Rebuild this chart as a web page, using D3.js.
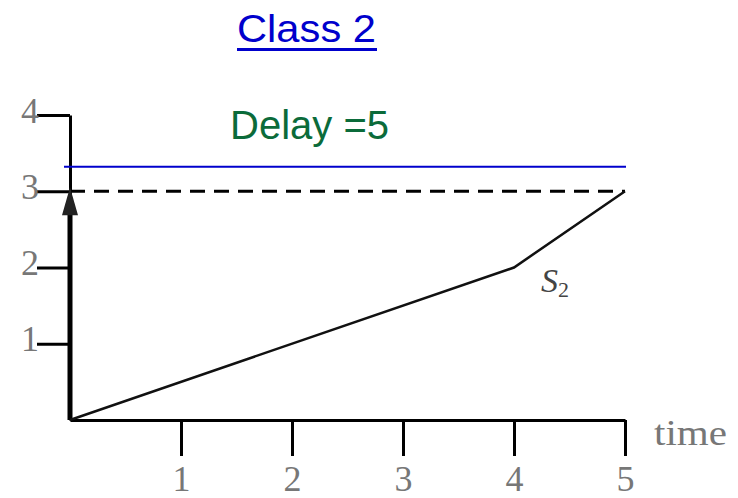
<!DOCTYPE html>
<html>
<head>
<meta charset="utf-8">
<script src="https://cdn.jsdelivr.net/npm/d3@7"></script>
<style>
  body { margin: 0; background: #fff; }
</style>
</head>
<body>
<svg id="chart"></svg>
<script>
// Class 2 arrival curve
const xTicks = [1, 2, 3, 4, 5];
const yTicks = [1, 2, 3, 4];
const s2Time = [0, 4, 5];
const s2Value = [0, 2, 3];
const burstValue = 3;
const delayLevel = 3.32;
const titleText = "Class 2";
const delayText = "Delay =5";

const width = 738, height = 498;
const svg = d3.select("#chart")
    .attr("width", width)
    .attr("height", height);

const x = d3.scaleLinear().domain([0, 5]).range([70, 625]);
const y = d3.scaleLinear().domain([0, 4]).range([420, 115]);

const serif = "'Liberation Serif', 'DejaVu Serif', serif";
const sans = "'Liberation Sans', Arial, sans-serif";

// title
svg.append("text")
    .attr("x", 237)
    .attr("y", 42)
    .attr("textLength", 139)
    .attr("lengthAdjust", "spacingAndGlyphs")
    .style("font-family", sans)
    .style("font-size", "38px")
    .style("fill", "#0000cc")
    .text(titleText);
svg.append("rect")
    .attr("x", 237).attr("y", 48)
    .attr("width", 140).attr("height", 3)
    .attr("fill", "#0000cc");

// x axis
const xAxis = svg.append("g")
    .attr("transform", `translate(0,${y(0)})`)
    .call(d3.axisBottom(x).tickValues(xTicks).tickFormat(d3.format("d"))
        .tickSize(36).tickPadding(9).tickSizeOuter(0));
xAxis.select(".domain").attr("stroke", "#000").attr("stroke-width", 3);
xAxis.selectAll(".tick line").attr("stroke", "#000").attr("stroke-width", 3);
xAxis.selectAll(".tick text")
    .style("font-family", serif)
    .style("font-size", "36px")
    .style("fill", "#777");

// y axis
const yAxis = svg.append("g")
    .attr("transform", `translate(${x(0)},0)`)
    .call(d3.axisLeft(y).tickValues(yTicks).tickFormat(d3.format("d"))
        .tickSize(33).tickPadding(-2).tickSizeOuter(0));
yAxis.select(".domain").attr("stroke", "#000").attr("stroke-width", 3);
yAxis.selectAll(".tick line").attr("stroke", "#000").attr("stroke-width", 3);
yAxis.selectAll(".tick text")
    .attr("dy", "0.2em")
    .style("font-family", serif)
    .style("font-size", "36px")
    .style("fill", "#777");

// "time" label
svg.append("text")
    .attr("x", 654)
    .attr("y", 445)
    .attr("textLength", 73)
    .attr("lengthAdjust", "spacingAndGlyphs")
    .style("font-family", serif)
    .style("font-size", "36px")
    .style("fill", "#777")
    .text("time");

// dashed level at burst
svg.append("line")
    .attr("x1", x(0)).attr("x2", x(5))
    .attr("y1", y(burstValue)).attr("y2", y(burstValue))
    .attr("stroke", "#000")
    .attr("stroke-width", 3)
    .attr("stroke-dasharray", "15,9");

// blue delay line
svg.append("line")
    .attr("x1", 64).attr("x2", 626)
    .attr("y1", y(delayLevel)).attr("y2", y(delayLevel))
    .attr("stroke", "#0000cc")
    .attr("stroke-width", 2);

svg.append("text")
    .attr("x", 230)
    .attr("y", 139)
    .style("font-family", sans)
    .style("font-size", "40px")
    .style("fill", "#0b6b3a")
    .text(delayText);

// burst arrow at t=0
svg.append("line")
    .attr("x1", x(0)).attr("x2", x(0))
    .attr("y1", y(0)).attr("y2", y(burstValue) + 22)
    .attr("stroke", "#000")
    .attr("stroke-width", 5);
svg.append("path")
    .attr("d", `M${x(0)},${y(burstValue) - 4} L${x(0) - 8},${y(burstValue) + 24} L${x(0) + 8},${y(burstValue) + 24} Z`)
    .attr("fill", "#222");

// S2 curve
const s2 = s2Time.map((t, i) => ({ t: t, v: s2Value[i] }));
svg.append("path")
    .datum(s2)
    .attr("fill", "none")
    .attr("stroke", "#111")
    .attr("stroke-width", 2.5)
    .attr("d", d3.line().x(d => x(d.t)).y(d => y(d.v)));

const lab = svg.append("text")
    .attr("x", 541)
    .attr("y", 292)
    .style("font-family", serif)
    .style("font-style", "italic")
    .style("font-size", "34px")
    .style("fill", "#444");
lab.append("tspan").text("S");
lab.append("tspan").attr("dy", 5).style("font-size", "22px").style("font-style", "normal").text("2");
</script>
</body>
</html>
